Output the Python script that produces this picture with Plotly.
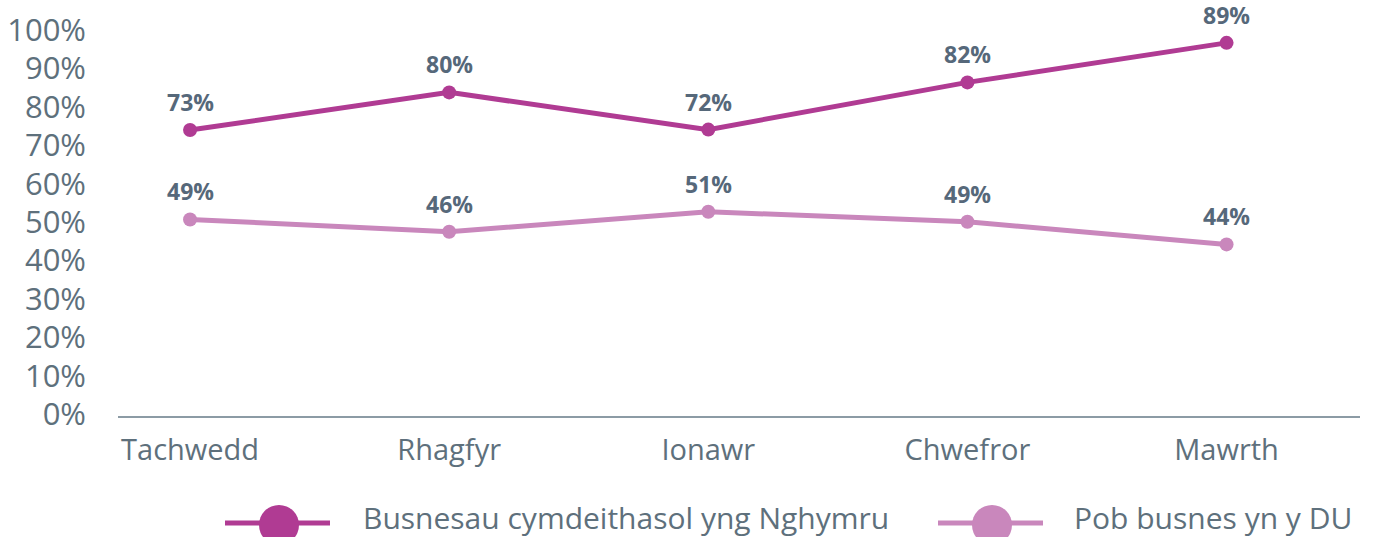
import plotly.graph_objects as go

months = ["Tachwedd", "Rhagfyr", "Ionawr", "Chwefror", "Mawrth"]
social_wales = [74.0, 83.8, 74.1, 86.4, 96.7]
all_uk = [50.7, 47.5, 52.7, 50.1, 44.2]
social_labels = ["73%", "80%", "72%", "82%", "89%"]
uk_labels = ["49%", "46%", "51%", "49%", "44%"]
series_names = ["Busnesau cymdeithasol yng Nghymru", "Pob busnes yn y DU"]
y_ticks = list(range(0, 101, 10))
y_tick_text = [f"{v}%" for v in y_ticks]

colors = ["#b03b93", "#c987bc"]
text_color = "#5e707c"
label_color = "#56687a"
FONT = "Open Sans, Noto Sans, sans-serif"

fig = go.Figure()
for name, vals, col in zip(series_names, [social_wales, all_uk], colors):
    fig.add_trace(go.Scatter(
        x=months, y=vals, name=name, mode="lines+markers",
        line=dict(color=col, width=5),
        marker=dict(color=col, size=14),
        cliponaxis=False, showlegend=False,
    ))

annotations = []
for vals, labels in [(social_wales, social_labels), (all_uk, uk_labels)]:
    for m, v, t in zip(months, vals, labels):
        annotations.append(dict(
            x=m, y=v, text=t, showarrow=False, yshift=28,
            borderpad=0, borderwidth=0,
            font=dict(family=FONT, size=23, color=label_color, weight="bold"),
        ))

# custom legend (large symbols like the reference)
L, R, T, B = 118, 17, 11, 121
W, H = 1377 - L - R, 537 - T - B
def px(xp):
    return (xp - L) / W
def py(yp):
    return (537 - B - yp) / H

legend_items = [(series_names[0], colors[0], 279, 363), (series_names[1], colors[1], 992, 1074)]
shapes = []
for name, col, cx, tx in legend_items:
    shapes.append(dict(type="line", xref="paper", yref="paper",
                       xsizemode="pixel", ysizemode="pixel",
                       xanchor=px(cx), yanchor=py(523),
                       x0=-54, x1=51, y0=0, y1=0,
                       line=dict(color=col, width=5)))
    shapes.append(dict(type="circle", xref="paper", yref="paper",
                       xsizemode="pixel", ysizemode="pixel",
                       xanchor=px(cx), yanchor=py(525),
                       x0=-20, x1=20, y0=-20, y1=20,
                       fillcolor=col, line=dict(color=col, width=0)))
    annotations.append(dict(x=px(tx), y=py(517), xref="paper", yref="paper",
                            text=name, showarrow=False, xanchor="left", yanchor="middle",
                            borderpad=0, borderwidth=0,
                            font=dict(family=FONT, size=30, color=text_color)))

fig.update_layout(
    width=1377, height=537,
    margin=dict(l=L, r=R, t=T, b=B, autoexpand=False),
    paper_bgcolor="white", plot_bgcolor="white",
    showlegend=False,
    annotations=annotations,
    shapes=shapes,
    xaxis=dict(
        type="category", range=[-0.278, 4.515], automargin=False,
        showgrid=False, zeroline=False,
        showline=True, linecolor="#8c9ba5", linewidth=1.5,
        ticks="", ticklabelstandoff=7,
        tickfont=dict(family=FONT, size=29, color=text_color),
    ),
    yaxis=dict(
        range=[-0.5, 105], automargin=False,
        tickvals=y_ticks, ticktext=y_tick_text,
        showgrid=False, zeroline=False, showline=False,
        ticks="", ticklabelstandoff=31,
        tickfont=dict(family=FONT, size=31, color=text_color),
    ),
)

fig.write_html(
    "out.html",
    config={"displayModeBar": False},
    post_script="document.body.style.margin='0';document.body.style.overflow='hidden';",
)
